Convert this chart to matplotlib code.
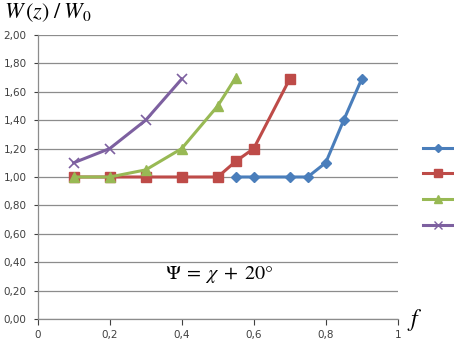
import matplotlib
matplotlib.use("Agg")
import matplotlib.pyplot as plt
from matplotlib.lines import Line2D

plt.rcParams['mathtext.fontset'] = 'stix'

f_blue = [0.55, 0.6, 0.7, 0.75, 0.8, 0.85, 0.9]
v_blue = [1.0, 1.0, 1.0, 1.0, 1.1, 1.4, 1.69]
f_red = [0.1, 0.2, 0.3, 0.4, 0.5, 0.55, 0.6, 0.7]
v_red = [1.0, 1.0, 1.0, 1.0, 1.0, 1.11, 1.2, 1.69]
f_green = [0.1, 0.2, 0.3, 0.4, 0.5, 0.55]
v_green = [1.0, 1.0, 1.05, 1.2, 1.5, 1.7]
f_purple = [0.1, 0.2, 0.3, 0.4]
v_purple = [1.1, 1.2, 1.4, 1.69]

xticks = [0, 0.2, 0.4, 0.6, 0.8, 1]
xticklabels = ['0', '0,2', '0,4', '0,6', '0,8', '1']
yticks = [0, 0.2, 0.4, 0.6, 0.8, 1.0, 1.2, 1.4, 1.6, 1.8, 2.0]
yticklabels = ['0,00', '0,20', '0,40', '0,60', '0,80', '1,00', '1,20', '1,40', '1,60', '1,80', '2,00']

c_blue = '#4A7EBB'
c_red = '#BE4B48'
c_green = '#98B954'
c_purple = '#7D60A0'

fig = plt.figure(figsize=(4.54, 3.43), dpi=100)
ax = fig.add_axes([0.083, 0.070, 0.793, 0.828])

ax.plot(f_blue, v_blue, color=c_blue, lw=2.2, marker='D', ms=5.5, zorder=3)
ax.plot(f_red, v_red, color=c_red, lw=2.2, marker='s', ms=7, zorder=3)
ax.plot(f_green, v_green, color=c_green, lw=2.2, marker='^', ms=7, zorder=3)
ax.plot(f_purple, v_purple, color=c_purple, lw=2.2, marker='x', ms=7, mew=1.2, zorder=3)

ax.set_xlim(0, 1)
ax.set_ylim(0, 2.0)
ax.set_xticks(xticks)
ax.set_xticklabels(xticklabels)
ax.set_yticks(yticks)
ax.set_yticklabels(yticklabels)
ax.tick_params(axis='both', labelsize=7.5, colors='#404040', length=4, width=0.8)
ax.tick_params(axis='x', direction='out', pad=4)
ax.tick_params(axis='y', length=3, pad=5)
ax.grid(axis='y', color='#8c8c8c', lw=0.9)
ax.set_axisbelow(True)
for s in ['top', 'right']:
    ax.spines[s].set_visible(False)
for s in ['left', 'bottom']:
    ax.spines[s].set_color('#8c8c8c')
    ax.spines[s].set_linewidth(0.9)

fig.text(0.008, 0.962, r'$W\,(z)\;/\;W_0$', fontsize=16, va='center', ha='left')
fig.text(0.914, 0.067, r'$f$', fontsize=17, va='center', ha='center')
ax.text(0.355, 0.31, r'$\Psi\;=\;\chi\;+\;20°$', fontsize=14.5, transform=ax.transData, va='center', ha='left')

handles = [Line2D([], [], color=c, lw=2.2, marker=m, ms=ms)
           for c, m, ms in [(c_blue, 'D', 4.5), (c_red, 's', 6), (c_green, '^', 6), (c_purple, 'x', 6)]]
leg = fig.legend(handles, ['', '', '', ''], loc='center', bbox_to_anchor=(0.965, 0.455),
                 frameon=False, handlelength=2.2, labelspacing=0.84, handletextpad=0, borderpad=0)

fig.savefig('out.png', dpi=100)
